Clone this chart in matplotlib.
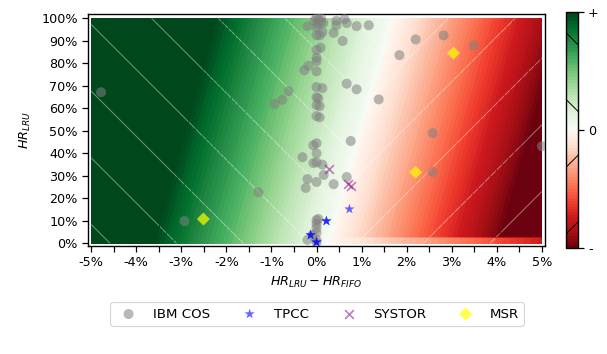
import numpy as np
import matplotlib
matplotlib.use('Agg')
import matplotlib.pyplot as plt
from matplotlib.colors import ListedColormap
from matplotlib.ticker import MultipleLocator, FuncFormatter

# ---------------- data (x = HR_LRU - HR_FIFO in %, y = HR_LRU in %) ----------------
ibm_x = [0.0, 0.05, 0.1, -0.05, 0.1, 0.02, 0.15, 0.0, -0.2, 0.44, 0.62, 0.67, 0.44,
         0.38, 0.13, 0.07, 0.0, 0.89, 1.16, 0.58, 0.0, 0.09, 0.0, 0.0, -0.18, -0.27,
         0.0, 0.0, 0.13, 0.67, 0.89, -0.62, -0.76, -0.93, 0.0, 0.04, 0.0, 0.07, 0.0,
         0.07, 1.38, 1.84, 2.2, 2.82, 3.49, 2.58, 2.58, 5.0, -4.78, -2.93, -1.29,
         0.76, 0.0, -0.07, -0.31, 0.0, 0.0, -0.07, 0.13, 0.16, -0.2, 0.0, -0.24,
         0.38, 0.67, 0.0, 0.04, 0.0, 0.0, 0.0, -0.09, 0.0, -0.2, 0.0]
ibm_y = [100, 99.5, 100, 99, 98.5, 97.5, 98, 96, 96.6, 99, 99.7, 98, 97,
         93.6, 94, 92.5, 92.5, 96.6, 97, 90, 86, 87, 81, 82.5, 79, 77,
         76.5, 69.5, 69, 71, 68.5, 67.7, 63.8, 62, 65, 64.5, 61.5, 61, 56.6,
         56, 64, 83.7, 90.7, 92.5, 88, 49, 31.7, 43.2, 67.2, 9.9, 22.7,
         45.5, 44.5, 43.6, 38.3, 40, 36, 35.7, 35, 30.4, 28.6, 27.3, 24.6,
         26.3, 29.5, 10.3, 10.8, 8.6, 6.8, 4.7, 3.7, 1.5, 1.5, 0.3]

tpcc_x = [0.73, 0.22, 0.22, -0.13, -0.13, 0.0, 0.0]
tpcc_y = [15.2, 9.9, 9.9, 3.7, 3.7, 0.5, 0.5]

systor_x = [0.27, 0.69, 0.76]
systor_y = [33.0, 26.3, 25.5]

msr_x = [3.04, 2.2, -2.51]
msr_y = [84.6, 31.6, 10.8]

x_ticks = [-5, -4, -3, -2, -1, 0, 1, 2, 3, 4, 5]
y_ticks = [0, 10, 20, 30, 40, 50, 60, 70, 80, 90, 100]
cbar_labels = ['-', '0', '+']

# ---------------- background field ----------------
gx = np.linspace(-5, 5, 501)
gy = np.linspace(0, 100, 401)
GX, GY = np.meshgrid(gx, gy)
x0 = 0.3 + 1.4 * GY / 100.0
zr = x0 - GX
Z = np.where(zr >= 0, zr / 4.0, zr / 3.8)
Z = np.where((GY < 2.5) & (Z < 0), Z * 0.6, Z)
Z = np.clip(Z, -0.999, 0.999)

reds = plt.get_cmap('Reds_r')(np.linspace(0, 1, 128))
greens = plt.get_cmap('Greens')(np.linspace(0, 1, 128))
cmap = ListedColormap(np.vstack([reds, greens]))

plt.rcParams['hatch.color'] = '#ffffff70'
plt.rcParams['hatch.linewidth'] = 0.35
FS = 4.6
plt.rcParams['font.size'] = FS

fig = plt.figure(figsize=(3.035, 1.77), dpi=200)
ax = fig.add_axes([88 / 607, 1 - 245.7 / 354, 457 / 607, 231.7 / 354])

levels = np.linspace(-1, 1, 81)
nb = len(levels) - 1
hatches = ['/'] * (nb // 2) + ['\\'] * (nb - nb // 2)
cf = ax.contourf(GX, GY, Z, levels=levels, cmap=cmap, vmin=-1, vmax=1,
                 hatches=hatches, zorder=0)

ax.scatter(ibm_x, ibm_y, s=13, color='gray', alpha=0.55, edgecolors='none',
           label='IBM COS', zorder=3)
ax.scatter(tpcc_x, tpcc_y, s=15, marker='*', color='blue', alpha=0.6,
           edgecolors='none', label='TPCC', zorder=4)
ax.scatter(systor_x, systor_y, s=10, marker='x', color='purple', alpha=0.5,
           linewidths=0.6, label='SYSTOR', zorder=4)
ax.scatter(msr_x, msr_y, s=11, marker='D', color='yellow', alpha=0.7,
           edgecolors='none', label='MSR', zorder=4)

ax.set_xlim(-5.07, 5.07)
ax.set_ylim(-1.07, 102.0)
ax.set_xticks(x_ticks)
ax.set_yticks(y_ticks)
ax.xaxis.set_minor_locator(MultipleLocator(0.5))
ax.xaxis.set_major_formatter(FuncFormatter(lambda v, p: '%d%%' % round(v)))
ax.yaxis.set_major_formatter(FuncFormatter(lambda v, p: '%d%%' % round(v)))
ax.tick_params(which='both', length=2.2, width=0.45, labelsize=FS, pad=1.5)
for s in ax.spines.values():
    s.set_linewidth(0.5)

ax.set_xlabel(r'$HR_{LRU} - HR_{FIFO}$', fontsize=FS, labelpad=2)
ax.set_ylabel(r'$HR_{LRU}$', fontsize=FS, labelpad=3)

cax = fig.add_axes([566 / 607, 1 - 247.7 / 354, 11.7 / 607, 235.4 / 354])
cb = fig.colorbar(cf, cax=cax, ticks=[-1, 0, 1])
cb.ax.set_yticklabels(cbar_labels)
cb.ax.tick_params(length=2.2, width=0.45, labelsize=FS, pad=1.5)
cb.outline.set_linewidth(0.5)

leg = fig.legend(loc='center', bbox_to_anchor=(317 / 607, 1 - 314 / 354), ncol=4,
                 fontsize=4.8, frameon=True)
leg.get_frame().set_linewidth(0.4)

fig.savefig('out.png', dpi=200)
